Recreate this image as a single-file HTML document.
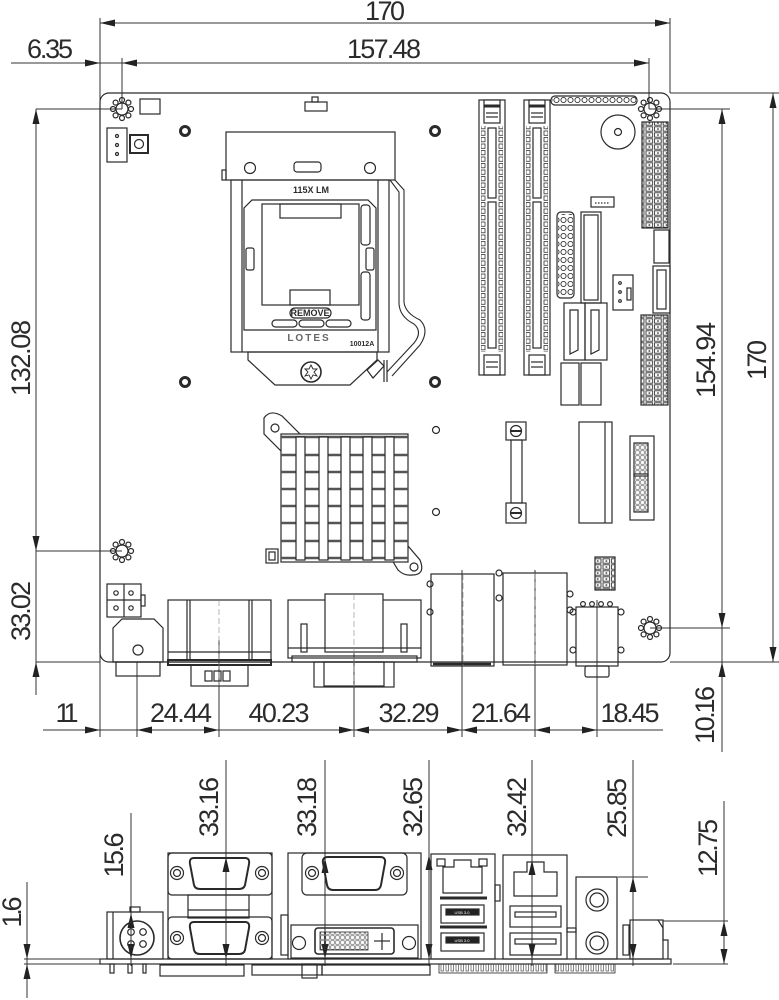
<!DOCTYPE html>
<html><head><meta charset="utf-8">
<style>
html,body{margin:0;padding:0;background:#fff;}
svg{display:block;}
text{font-family:"Liberation Sans",sans-serif;fill:#2b2b2b;}
.d{font-size:27px;}
.s{font-size:9px;font-weight:bold;}
</style></head>
<body>
<svg width="779" height="1000" viewBox="0 0 779 1000" xmlns="http://www.w3.org/2000/svg">
<defs>
<pattern id="hp" width="8.6" height="6" patternUnits="userSpaceOnUse">
<rect x="1" y="0.8" width="6.6" height="4.4" fill="none" stroke="#333" stroke-width="0.9"/>
<rect x="3.6" y="2.3" width="1.5" height="1.5" fill="#333"/>
</pattern>
<pattern id="dp" width="6" height="6.5" patternUnits="userSpaceOnUse">
<rect x="1" y="1" width="4" height="4.3" fill="none" stroke="#333" stroke-width="0.8"/>
</pattern>
<pattern id="cp" width="7" height="8" patternUnits="userSpaceOnUse">
<circle cx="3.5" cy="4" r="2.6" fill="none" stroke="#333" stroke-width="0.9"/>
</pattern>
<pattern id="mp" width="5" height="5" patternUnits="userSpaceOnUse">
<rect x="0.8" y="0.8" width="3.4" height="3.4" fill="none" stroke="#333" stroke-width="0.5"/>
</pattern>
<pattern id="mp2" width="5" height="9" patternUnits="userSpaceOnUse">
<rect x="1" y="1" width="2.5" height="7" fill="none" stroke="#333" stroke-width="0.6"/>
</pattern>
</defs>

<!-- ============ DIMENSIONS (TOP VIEW) ============ -->
<g stroke="#333" stroke-width="1" fill="none">
<line x1="100" y1="18" x2="100" y2="737"/>
<line x1="670" y1="18" x2="670" y2="93"/>
<line x1="122" y1="58" x2="122" y2="109"/>
<line x1="649" y1="58" x2="649" y2="109"/>
<line x1="100" y1="23" x2="670" y2="23"/>
<line x1="11" y1="63" x2="649" y2="63"/>
<line x1="43" y1="730" x2="663" y2="730"/>
<line x1="137" y1="662" x2="137" y2="737"/>
<line x1="219" y1="640" x2="219" y2="737"/>
<line x1="354" y1="600" x2="354" y2="737"/>
<line x1="462" y1="570" x2="462" y2="737"/>
<line x1="535" y1="570" x2="535" y2="737"/>
<line x1="597" y1="600" x2="597" y2="737"/>
<line x1="36" y1="109" x2="36" y2="695"/>
<line x1="36" y1="109" x2="122" y2="109"/>
<line x1="36" y1="551" x2="122" y2="551"/>
<line x1="36" y1="662" x2="100" y2="662"/>
<line x1="722" y1="109" x2="722" y2="752"/>
<line x1="649" y1="109" x2="730" y2="109"/>
<line x1="650" y1="628" x2="730" y2="628"/>
<line x1="773" y1="93" x2="773" y2="662"/>
<line x1="670" y1="93" x2="779" y2="93"/>
<line x1="670" y1="662" x2="779" y2="662"/>
</g>
<g fill="#222">
<polygon points="100,23 115,19.5 115,26.5"/>
<polygon points="670,23 655,19.5 655,26.5"/>
<polygon points="100,63 85,59.5 85,66.5"/>
<polygon points="122,63 137,59.5 137,66.5"/>
<polygon points="649,63 634,59.5 634,66.5"/>
<polygon points="100,730 85,726.5 85,733.5"/>
<polygon points="137,730 152,726.5 152,733.5"/>
<polygon points="219,730 204,726.5 204,733.5"/>
<polygon points="354,730 339,726.5 339,733.5"/>
<polygon points="354,730 369,726.5 369,733.5"/>
<polygon points="462,730 447,726.5 447,733.5"/>
<polygon points="462,730 477,726.5 477,733.5"/>
<polygon points="535,730 550,726.5 550,733.5"/>
<polygon points="597,730 582,726.5 582,733.5"/>
<polygon points="36,109 32.5,124 39.5,124"/>
<polygon points="36,551 32.5,536 39.5,536"/>
<polygon points="36,662 32.5,677 39.5,677"/>
<polygon points="722,109 718.5,124 725.5,124"/>
<polygon points="722,628 718.5,613 725.5,613"/>
<polygon points="722,662 718.5,677 725.5,677"/>
<polygon points="773,93 769.5,108 776.5,108"/>
<polygon points="773,662 769.5,647 776.5,647"/>
</g>
<g class="d" text-anchor="middle">
<text x="385" y="20" textLength="40">170</text>
<text x="384" y="58" textLength="74">157.48</text>
<text x="50" y="58" textLength="46">6.35</text>
<text x="67" y="722" textLength="23">11</text>
<text x="181" y="722" textLength="62">24.44</text>
<text x="279" y="722" textLength="61">40.23</text>
<text x="409" y="722" textLength="61">32.29</text>
<text x="501" y="722" textLength="60">21.64</text>
<text x="630" y="722" textLength="59">18.45</text>
<text transform="translate(20,358) rotate(-90)" dy="10" textLength="76">132.08</text>
<text transform="translate(20,611) rotate(-90)" dy="10" textLength="60">33.02</text>
<text transform="translate(705,360) rotate(-90)" dy="10" textLength="76">154.94</text>
<text transform="translate(756,360) rotate(-90)" dy="10" textLength="40">170</text>
<text transform="translate(704,715) rotate(-90)" dy="10" textLength="58">10.16</text>
</g>

<!-- ============ BOARD (TOP VIEW) ============ -->
<g stroke="#2a2a2a" stroke-width="1.2" fill="none">
<rect x="100" y="93" width="570" height="569" rx="9"/>

<g id="hc">
<circle cx="122" cy="109" r="6"/>
<circle cx="122" cy="100" r="2.5"/><circle cx="122" cy="118" r="2.5"/>
<circle cx="113" cy="109" r="2.5"/><circle cx="131" cy="109" r="2.5"/>
<circle cx="115.6" cy="102.6" r="2.5"/><circle cx="128.4" cy="102.6" r="2.5"/>
<circle cx="115.6" cy="115.4" r="2.5"/><circle cx="128.4" cy="115.4" r="2.5"/>
</g>
<use href="#hc" x="528" y="0"/>
<use href="#hc" x="0" y="442"/>
<use href="#hc" x="528" y="519"/>

<rect x="140" y="99" width="20" height="15"/>
<rect x="305" y="102" width="22" height="9"/><rect x="312" y="97" width="6" height="5"/>
<g stroke-width="3">
<circle cx="185" cy="131" r="4.5"/><circle cx="435" cy="131" r="4.5"/>
<circle cx="185" cy="382" r="4.5"/><circle cx="435" cy="382" r="4.5"/>
</g>
<rect x="107" y="128" width="20" height="34"/>
<circle cx="117" cy="136" r="1.5"/><circle cx="117" cy="145" r="1.5"/><circle cx="117" cy="154" r="1.5"/>
<rect x="130" y="135" width="18" height="18" stroke-width="2"/><circle cx="139" cy="144" r="4.5"/>

<rect x="226" y="132" width="169" height="48"/>
<rect x="222" y="170" width="4" height="10"/>
<circle cx="250" cy="168" r="5.5"/><circle cx="370" cy="168" r="5.5"/>
<rect x="294" y="162" width="27" height="10" rx="3"/>
<rect x="231" y="180" width="158" height="172"/>
<line x1="242" y1="180" x2="242" y2="352"/><line x1="378" y1="180" x2="378" y2="352"/>
<path d="M252,200 L368,200 L376,208 L376,330 L244,330 L244,208 Z"/>
<rect x="262" y="204" width="97" height="101"/>
<rect x="280" y="204" width="61" height="14"/>
<rect x="290" y="290" width="40" height="15"/>
<rect x="290" y="308" width="41" height="10" rx="5"/>
<rect x="272" y="320" width="25" height="7" rx="3.5"/><rect x="299" y="320" width="25" height="7" rx="3.5"/><rect x="326" y="320" width="25" height="7" rx="3.5"/>
<rect x="246" y="248" width="8" height="22" rx="2"/><rect x="366" y="248" width="8" height="22" rx="2"/>
<rect x="361" y="205" width="9" height="40" rx="3"/><rect x="361" y="272" width="9" height="48" rx="3"/>
<path d="M248,352 L377,352 L377,360 L350,385 L275,385 L248,360 Z"/>
<circle cx="311" cy="372" r="10" stroke-width="1.6"/>
<path d="M311,365 L313,369 L317,369 L314,372 L317,376 L313,375 L311,379 L309,375 L305,376 L308,372 L305,369 L309,369 Z" stroke-width="0.9"/>
<path d="M395,180 L404,190 L404,302 Q405,313 420,320 Q430,330 420,345 L392,376" stroke-width="1.1"/>
<path d="M390,180 L399,192 L399,304 Q400,317 414,324 Q423,332 414,343 L387,372" stroke-width="1.1"/>
<path d="M367,370 L378,360 L384,366 L373,378 Z"/>
<line x1="384" y1="360" x2="384" y2="382"/><line x1="387" y1="360" x2="387" y2="382"/>

<g id="dimm">
<rect x="479" y="100" width="26" height="275"/>
<rect x="484" y="100" width="16" height="23" fill="#fff"/>
<line x1="484" y1="106" x2="500" y2="106" stroke-width="3"/>
<line x1="486" y1="113" x2="498" y2="113"/><line x1="486" y1="117" x2="498" y2="117"/>
<rect x="488" y="128" width="8" height="70"/>
<rect x="488" y="202" width="8" height="146"/>
<rect x="484" y="355" width="16" height="20"/>
<line x1="486" y1="362" x2="498" y2="362"/><line x1="486" y1="367" x2="498" y2="367"/>
<rect x="481" y="126" width="5" height="226" fill="url(#dp)" stroke="none"/>
<rect x="498" y="126" width="5" height="226" fill="url(#dp)" stroke="none"/>
</g>
<use href="#dimm" x="45" y="0"/>

<rect x="551" y="96" width="86" height="9" rx="4"/>
<rect x="552" y="96" width="84" height="9" fill="url(#cp)" stroke="none"/>
<circle cx="618" cy="132" r="17"/><circle cx="618" cy="132" r="3.5"/>
<rect x="642" y="122" width="26" height="106" fill="url(#hp)"/>
<rect x="641" y="315" width="27" height="90" fill="url(#hp)"/>
<rect x="557" y="212" width="17" height="86" rx="4"/>
<rect x="558" y="214" width="15" height="82" fill="url(#cp)" stroke="none"/>
<rect x="581" y="212" width="20" height="91"/><rect x="584" y="215" width="14" height="85"/>
<rect x="591" y="197" width="23" height="10"/><line x1="595" y1="203" x2="610" y2="203" stroke-dasharray="1.5 1.5"/>
<rect x="654" y="230" width="15" height="33"/><rect x="653" y="266" width="17" height="47"/><rect x="657" y="270" width="9" height="39"/>
<rect x="613" y="275" width="20" height="35"/><rect x="627" y="288" width="4" height="12"/>
<circle cx="620" cy="283" r="1.3"/><circle cx="620" cy="292" r="1.3"/><circle cx="620" cy="301" r="1.3"/>
<rect x="564" y="303" width="21" height="57"/><path d="M570,310 L578,310 L578,350 L570,354 Z"/>
<rect x="585" y="303" width="22" height="57"/><path d="M591,310 L599,310 L599,350 L591,354 Z"/>
<rect x="561" y="363" width="18" height="42"/><rect x="581" y="363" width="20" height="42"/>

<path d="M264,418 Q270,409 282,416 L300,434 L282,452 L264,434 Z"/>
<circle cx="275" cy="428" r="4"/>
<path d="M392,560 L408,546 L420,560 Q426,575 412,575 Q404,576 398,570 Z"/>
<circle cx="414" cy="567" r="4"/>
<rect x="281" y="434" width="127" height="128" fill="#fff"/>
<g stroke-width="2.4" stroke="#555">
<line x1="281" y1="437" x2="408" y2="437"/><line x1="281" y1="455" x2="408" y2="455"/><line x1="281" y1="472" x2="408" y2="472"/>
<line x1="281" y1="489" x2="408" y2="489"/><line x1="281" y1="506" x2="408" y2="506"/><line x1="281" y1="523" x2="408" y2="523"/>
<line x1="281" y1="541" x2="408" y2="541"/><line x1="281" y1="558" x2="408" y2="558"/>
</g>
<rect x="296" y="437" width="9" height="123" fill="#fff"/><rect x="319" y="437" width="9" height="123" fill="#fff"/>
<rect x="341" y="437" width="9" height="123" fill="#fff"/><rect x="363" y="437" width="9" height="123" fill="#fff"/>
<rect x="385" y="437" width="9" height="123" fill="#fff"/>
<rect x="266" y="549" width="12" height="14"/><rect x="269" y="552" width="6" height="8"/>
<circle cx="436" cy="430" r="3.5"/><circle cx="436" cy="512" r="3.5"/>
<rect x="506" y="422" width="20" height="18"/><rect x="506" y="503" width="20" height="20"/>
<circle cx="516" cy="431" r="5.5"/><circle cx="516" cy="513" r="5.5"/>
<line x1="511" y1="431" x2="521" y2="431" stroke-width="2"/><line x1="511" y1="513" x2="521" y2="513" stroke-width="2"/>
<rect x="511" y="440" width="11" height="63"/>
<rect x="579" y="422" width="33" height="101"/><line x1="605" y1="422" x2="605" y2="523"/>
<rect x="630" y="436" width="24" height="84"/>
<rect x="634" y="443" width="14" height="33" fill="url(#mp)"/><rect x="634" y="474" width="14" height="38" fill="url(#mp)"/>
<rect x="595" y="557" width="20" height="33" fill="url(#hp)"/>

<rect x="107" y="584" width="34" height="33"/><line x1="124" y1="584" x2="124" y2="617"/><line x1="107" y1="600" x2="141" y2="600"/>
<circle cx="116" cy="593" r="2.2"/><circle cx="131" cy="593" r="2.2"/><circle cx="116" cy="608" r="2.2"/><circle cx="131" cy="608" r="2.2"/>
<rect x="141" y="595" width="4" height="11"/>
<path d="M113,628 L122,619 L154,619 L163,628 L163,662 L113,662 Z"/>
<circle cx="138" cy="650" r="5"/>
<rect x="116" y="662" width="44" height="14"/>
<rect x="168" y="600" width="103" height="62"/>
<line x1="187" y1="600" x2="187" y2="660"/><line x1="190" y1="600" x2="190" y2="660"/>
<line x1="249" y1="600" x2="249" y2="660"/><line x1="252" y1="600" x2="252" y2="660"/>
<line x1="168" y1="652" x2="271" y2="652"/>
<rect x="168" y="660" width="103" height="5" stroke-width="2"/>
<rect x="191" y="665" width="57" height="21"/>
<rect x="205" y="671" width="7" height="10"/><rect x="214" y="671" width="7" height="10"/><rect x="223" y="671" width="7" height="10"/>
<rect x="288" y="600" width="133" height="58"/>
<rect x="325" y="594" width="58" height="58" fill="#fff"/>
<rect x="301" y="624" width="6" height="28"/><rect x="401" y="624" width="6" height="28"/>
<line x1="288" y1="648" x2="421" y2="648"/>
<rect x="292" y="656" width="125" height="6"/>
<rect x="314" y="662" width="80" height="25"/><rect x="324" y="662" width="60" height="24"/>
<rect x="431" y="574" width="63" height="92"/>
<line x1="433" y1="664" x2="491" y2="664" stroke-width="2.5"/>
<rect x="503" y="573" width="64" height="92"/>
<circle cx="430" cy="584" r="3"/><circle cx="430" cy="612" r="3"/><circle cx="499" cy="573" r="3"/><circle cx="499" cy="598" r="3"/>
<circle cx="570" cy="594" r="3"/><circle cx="570" cy="610" r="3"/>
<rect x="576" y="607" width="42" height="59"/>
<rect x="585" y="666" width="24" height="11" rx="2"/>
<circle cx="583" cy="604" r="2.4"/><circle cx="592" cy="604" r="2.4"/><circle cx="601" cy="604" r="2.4"/><circle cx="610" cy="604" r="2.4"/>
<circle cx="573" cy="612" r="3"/><circle cx="621" cy="612" r="3"/><circle cx="573" cy="650" r="3"/><circle cx="621" cy="650" r="3"/>
</g>
<g stroke="#888" stroke-width="0.6" stroke-dasharray="6 3">
<line x1="463" y1="574" x2="463" y2="666"/><line x1="535" y1="573" x2="535" y2="665"/>
<line x1="219" y1="600" x2="219" y2="686"/><line x1="354" y1="594" x2="354" y2="687"/>
</g>
<text class="s" x="311" y="193" text-anchor="middle">115X LM</text>
<text class="s" x="310" y="316" text-anchor="middle" font-size="7">REMOVE</text>
<text class="s" x="309" y="341" text-anchor="middle" style="font-size:10px;letter-spacing:2px;fill:#666">LOTES</text>
<text class="s" x="362" y="346" text-anchor="middle" style="font-size:7px">10012A</text>

<!-- ============ REAR PANEL VIEW ============ -->
<g stroke="#333" stroke-width="1" fill="none">
<line x1="131" y1="813" x2="131" y2="966"/>
<line x1="226" y1="760" x2="226" y2="966"/>
<line x1="325" y1="760" x2="325" y2="966"/>
<line x1="429" y1="760" x2="429" y2="966"/>
<line x1="532" y1="760" x2="532" y2="966"/>
<line x1="633" y1="760" x2="633" y2="966"/>
<line x1="618" y1="877" x2="648" y2="877"/>
<line x1="724" y1="801" x2="724" y2="964"/>
<line x1="663" y1="921" x2="728" y2="921"/>
<line x1="673" y1="964" x2="728" y2="964"/>
<line x1="27" y1="882" x2="27" y2="998"/>
<line x1="24" y1="959" x2="100" y2="959"/>
<line x1="24" y1="964" x2="100" y2="964"/>
</g>
<g fill="#222">
<polygon points="131,913 127.5,928 134.5,928"/><polygon points="131,959 127.5,944 134.5,944"/>
<polygon points="226,857 222.5,872 229.5,872"/><polygon points="226,959 222.5,944 229.5,944"/>
<polygon points="325,858 321.5,873 328.5,873"/><polygon points="325,959 321.5,944 328.5,944"/>
<polygon points="429,855 425.5,870 432.5,870"/><polygon points="429,959 425.5,944 432.5,944"/>
<polygon points="532,860 528.5,875 535.5,875"/><polygon points="532,959 528.5,944 535.5,944"/>
<polygon points="633,877 629.5,892 636.5,892"/><polygon points="633,959 629.5,944 636.5,944"/>
<polygon points="724,921 720.5,936 727.5,936"/><polygon points="724,964 720.5,949 727.5,949"/>
<polygon points="27,959 23.5,944 30.5,944"/><polygon points="27,964 23.5,979 30.5,979"/>
</g>
<g class="d" text-anchor="middle">
<text transform="translate(113,855) rotate(-90)" dy="10" textLength="45">15.6</text>
<text transform="translate(208,807) rotate(-90)" dy="10" textLength="60">33.16</text>
<text transform="translate(306,807) rotate(-90)" dy="10" textLength="60">33.18</text>
<text transform="translate(412,807) rotate(-90)" dy="10" textLength="60">32.65</text>
<text transform="translate(516,807) rotate(-90)" dy="10" textLength="60">32.42</text>
<text transform="translate(616,808) rotate(-90)" dy="10" textLength="60">25.85</text>
<text transform="translate(707,848) rotate(-90)" dy="10" textLength="58">12.75</text>
<text transform="translate(11,912) rotate(-90)" dy="10" textLength="31">1.6</text>
</g>
<g stroke="#2a2a2a" stroke-width="1.2" fill="none">
<rect x="100" y="959" width="571" height="5"/>
<rect x="160" y="965" width="84" height="11"/><rect x="252" y="965" width="70" height="10"/>
<rect x="302" y="964" width="15" height="14"/><rect x="322" y="965" width="108" height="10"/>
<rect x="439" y="964" width="108" height="9" fill="url(#mp2)" stroke-width="0.8"/><rect x="555" y="964" width="60" height="9" fill="url(#mp2)" stroke-width="0.8"/>
<rect x="110" y="964" width="4" height="9"/><rect x="128" y="964" width="4" height="9"/><rect x="143" y="964" width="3" height="9"/>
<rect x="107" y="912" width="56" height="47"/><line x1="113" y1="912" x2="113" y2="959"/>
<rect x="130" y="907" width="10" height="5"/>
<circle cx="137" cy="938" r="17" stroke-width="1.6"/>
<circle cx="131" cy="932" r="3.3"/><circle cx="143" cy="932" r="3.3"/><circle cx="131" cy="944" r="3.3"/><circle cx="143" cy="944" r="3.3"/>
<rect x="168" y="853" width="104" height="106"/>
<rect x="168" y="853" width="104" height="42" rx="4"/>
<rect x="188" y="895" width="61" height="23"/><line x1="188" y1="910" x2="249" y2="910"/>
<rect x="168" y="917" width="104" height="42" rx="4"/>
<path d="M194,858 L245,858 Q250,858 249,864 L245,885 Q244,889 239,889 L200,889 Q195,889 194,885 L190,864 Q189,858 194,858 Z" stroke-width="2"/>
<path d="M194,922 L245,922 Q250,922 249,928 L245,950 Q244,954 239,954 L200,954 Q195,954 194,950 L190,928 Q189,922 194,922 Z" stroke-width="2"/>
<circle cx="177" cy="873" r="6.5"/><circle cx="177" cy="873" r="3.5"/><circle cx="262" cy="873" r="6.5"/><circle cx="262" cy="873" r="3.5"/>
<circle cx="177" cy="938" r="6.5"/><circle cx="177" cy="938" r="3.5"/><circle cx="262" cy="938" r="6.5"/><circle cx="262" cy="938" r="3.5"/>
<rect x="288" y="853" width="133" height="106"/>
<rect x="302" y="853" width="105" height="42" rx="5"/>
<path d="M328,857 L380,857 Q386,857 385,863 L381,885 Q380,890 375,890 L333,890 Q328,890 327,885 L323,863 Q322,857 328,857 Z" stroke-width="2"/>
<circle cx="312" cy="873" r="6.5"/><circle cx="312" cy="873" r="3.5"/><circle cx="397" cy="873" r="6.5"/><circle cx="397" cy="873" r="3.5"/>
<rect x="291" y="925" width="127" height="33"/>
<rect x="315" y="928" width="79" height="26" rx="3" stroke-width="1.6"/>
<rect x="320" y="932" width="48" height="18" fill="url(#mp)" stroke-width="0.8"/>
<line x1="382" y1="933" x2="382" y2="950"/><line x1="374" y1="941" x2="390" y2="941"/>
<circle cx="299" cy="943" r="6.5"/><circle cx="409" cy="943" r="6.5"/>
<rect x="281" y="915" width="7" height="40"/>
<rect x="431" y="854" width="64" height="105"/>
<path d="M443,867 L454,867 L454,860 L471,860 L471,867 L482,867 L482,893 L443,893 Z"/>
<rect x="437" y="859" width="8" height="7"/><rect x="479" y="859" width="8" height="7"/>
<line x1="440" y1="898" x2="487" y2="898" stroke-width="3"/><line x1="440" y1="927" x2="487" y2="927" stroke-width="3"/>
<rect x="441" y="905" width="43" height="18"/><rect x="441" y="933" width="43" height="18"/>
<rect x="446" y="909" width="33" height="6" fill="#222"/><rect x="446" y="937" width="33" height="6" fill="#222"/>
<rect x="495" y="885" width="5" height="16"/>
<rect x="503" y="855" width="64" height="104"/>
<path d="M514,872 L527,872 L527,862 L544,862 L544,872 L557,872 L557,896 L514,896 Z"/>
<rect x="510" y="906" width="51" height="21"/><rect x="510" y="933" width="51" height="22"/>
<rect x="515" y="912" width="41" height="5"/><rect x="515" y="939" width="41" height="5"/>
<rect x="567" y="928" width="9" height="4"/>
<rect x="576" y="877" width="41" height="82"/>
<circle cx="597" cy="900" r="11"/><circle cx="597" cy="900" r="7"/>
<circle cx="597" cy="943" r="11"/><circle cx="597" cy="943" r="7"/>
<rect x="623" y="925" width="6" height="30"/>
<rect x="630" y="920" width="33" height="39"/><path d="M658,920 L663,928 L663,940 L668,940 L668,959"/>
</g>
<g style="font-size:4px;font-family:'Liberation Sans',sans-serif" text-anchor="middle">
<text x="462" y="914" style="fill:#fff">USB 3.0</text><text x="462" y="942" style="fill:#fff">USB 3.0</text>
</g>
</svg>
</body></html>
